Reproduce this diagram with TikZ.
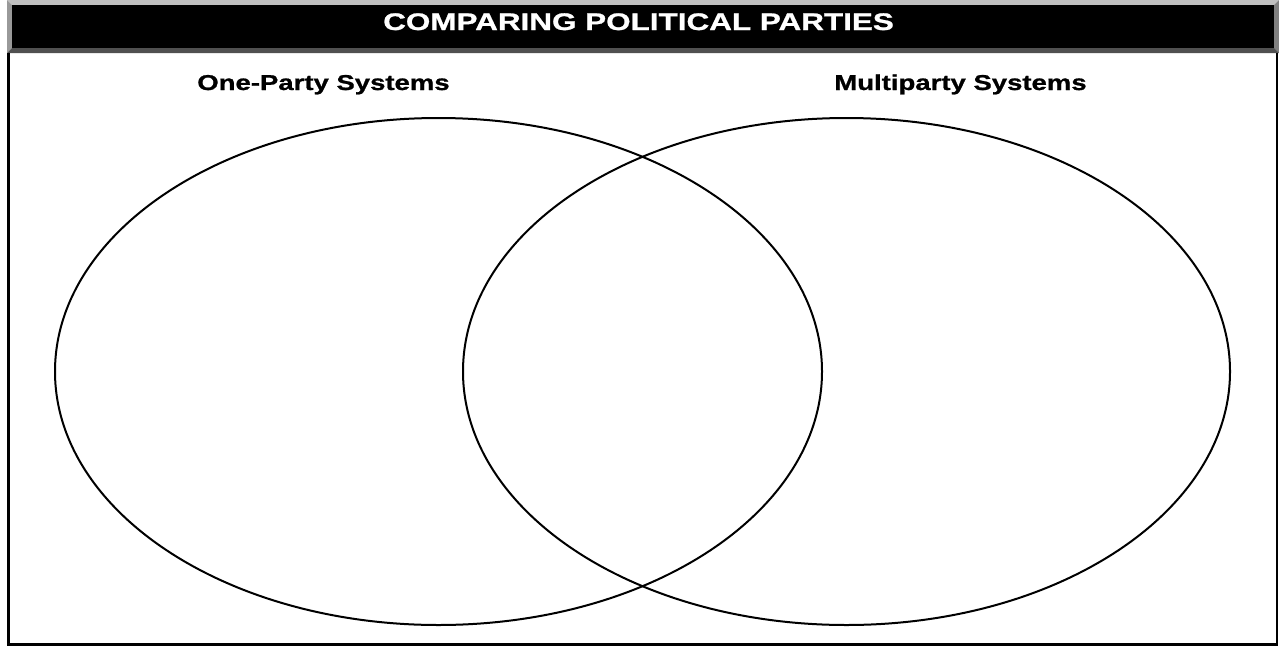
\documentclass[tikz,border=0pt]{standalone}
\usepackage{fontspec}
\setmainfont{Liberation Sans}
\newfontfamily\heavyfont[FakeStretch=1.28, FakeBold=1]{Liberation Sans Bold}
\newfontfamily\titlefont[FakeStretch=1.31, FakeBold=1]{Liberation Sans Bold}
\usetikzlibrary{shapes.geometric}

\definecolor{bevellight}{HTML}{C0C0C0}
\definecolor{bevelleft}{HTML}{999999}
\definecolor{bevelright}{HTML}{808080}
\definecolor{beveldark}{HTML}{505050}

\tikzset{
    titletext/.style={text=white, font=\titlefont\fontsize{24}{28}\selectfont, inner sep=0pt, anchor=base},
    settext/.style={text=black, font=\heavyfont\fontsize{21.5}{25}\selectfont, inner sep=0pt, anchor=base},
    venn/.style={draw, ellipse, line width=2pt, minimum width=767pt, minimum height=507pt, inner sep=0pt}
}

\begin{document}
\begin{tikzpicture}[x=1pt, y=-1pt]
    \useasboundingbox (0,0) rectangle (1279,648);

    % title bar with bevelled edges
    \fill[bevellight] (7,0) -- (1279,0) -- (1274,5) -- (12,5) -- cycle;
    \fill[bevelleft] (7,0) -- (12,5) -- (12,48) -- (7,53) -- cycle;
    \fill[bevelright] (1279,0) -- (1279,53) -- (1274,48) -- (1274,5) -- cycle;
    \fill[beveldark] (7,53) -- (12,48) -- (1274,48) -- (1279,53) -- cycle;
    \fill[black] (12,5) rectangle (1274,48);
    \node[titletext] (title) at (638.5,30) {COMPARING POLITICAL PARTIES};

    % frame below the title
    \draw[line width=2.5pt] (8.5,53) -- (8.5,644.5) -- (1277,644.5) -- (1277,53);

    % the two sets
    \node[venn] (oneparty) at (438.5,371.5) {};
    \node[venn] (multiparty) at (846.5,371.5) {};

    % set labels
    \node[settext] (onelabel) at (323.5,90) {One-Party Systems};
    \node[settext] (multilabel) at (960.5,90) {Multiparty Systems};
\end{tikzpicture}
\end{document}
